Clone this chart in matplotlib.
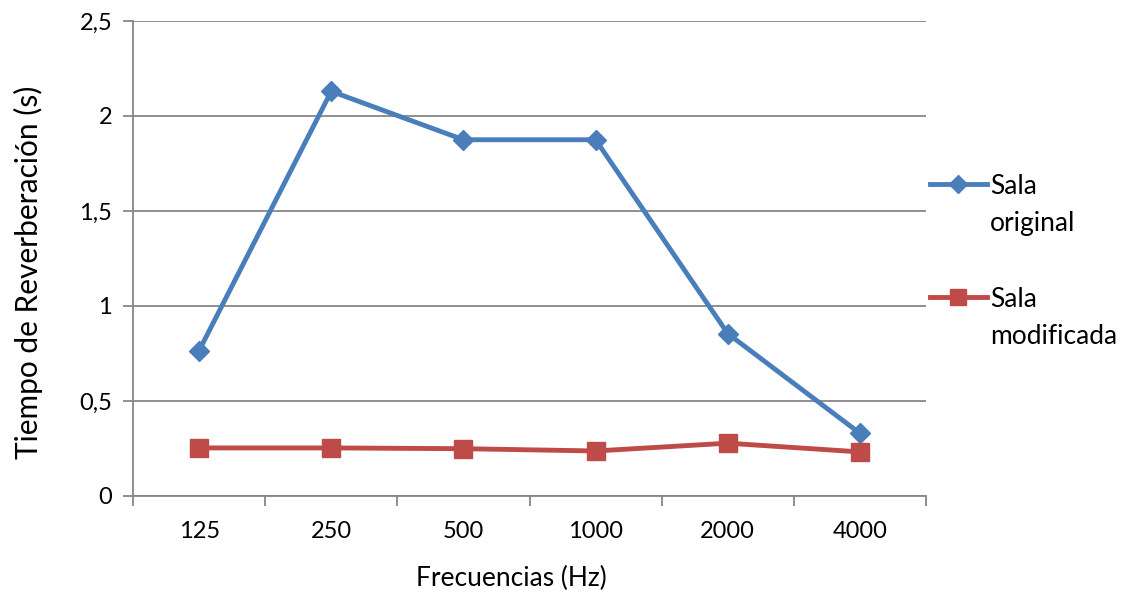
import matplotlib
matplotlib.use("Agg")
import matplotlib.pyplot as plt
from matplotlib.lines import Line2D
from matplotlib.ticker import FuncFormatter, FixedLocator

plt.rcParams['font.family'] = ['Lato', 'DejaVu Sans']

categories = ["125", "250", "500", "1000", "2000", "4000"]
sala_original = [0.765, 2.13, 1.875, 1.875, 0.855, 0.33]
sala_modificada = [0.253, 0.253, 0.249, 0.237, 0.278, 0.232]
series_names = ["Sala\noriginal", "Sala\nmodificada"]
yticks = [0, 0.5, 1, 1.5, 2, 2.5]

blue = "#4A7EBB"
red = "#BE4B48"
grid_c = "#878787"

W, H = 1127, 597
fig = plt.figure(figsize=(W / 100, H / 100), dpi=100)
ax = fig.add_axes([133 / W, 1 - 496 / H, (926 - 133) / W, (496 - 21) / H])

x = list(range(len(categories)))
ax.plot(x, sala_original, color=blue, lw=3.5, marker="D", ms=10,
        mec=blue, mfc=blue, zorder=3, clip_on=False)
ax.plot(x, sala_modificada, color=red, lw=3.5, marker="s", ms=13.5,
        mec=red, mfc=red, zorder=3, clip_on=False)

ax.set_xlim(-0.5, len(categories) - 0.5)
ax.set_ylim(0, 2.5)
ax.set_yticks(yticks)
ax.yaxis.set_major_formatter(FuncFormatter(lambda v, p: f"{v:g}".replace(".", ",")))
ax.grid(axis="y", color=grid_c, lw=1.3)
ax.set_axisbelow(True)

ax.xaxis.set_major_locator(FixedLocator([i - 0.5 for i in range(len(categories) + 1)]))
ax.xaxis.set_major_formatter(FuncFormatter(lambda v, p: ""))
ax.xaxis.set_minor_locator(FixedLocator(x))
ax.set_xticklabels(categories, minor=True)
ax.tick_params(axis="x", which="major", length=7, width=1.3, color=grid_c, direction="out")
ax.tick_params(axis="x", which="minor", length=0, pad=18, labelsize=17)
ax.tick_params(axis="y", length=7, width=1.3, color=grid_c, direction="out", pad=8, labelsize=17)

for s in ["top", "right"]:
    ax.spines[s].set_visible(False)
for s in ["left", "bottom"]:
    ax.spines[s].set_color(grid_c)
    ax.spines[s].set_linewidth(1.3)

ax.set_xlabel("Frecuencias (Hz)", fontsize=19)
ax.set_ylabel("Tiempo de Reverberación (s)", fontsize=21.5)
ax.xaxis.set_label_coords((511 - 133) / 793, (496 - 578) / 475)
ax.yaxis.set_label_coords((28 - 133) / 793, (496 - 272) / 475)
ax.xaxis.label.set_va("center")
ax.yaxis.label.set_va("center")

# manual legend (handle aligned with first line of label)
legend_items = [(series_names[0], blue, "D", 9, 184),
                (series_names[1], red, "s", 12, 297)]
for name, c, m, ms, ypx in legend_items:
    yy = 1 - ypx / H
    fig.add_artist(Line2D([930 / W, 987 / W], [yy, yy], color=c, lw=3.5,
                          transform=fig.transFigure))
    fig.add_artist(Line2D([958 / W], [yy], color=c, marker=m, ms=ms, mec=c, mfc=c,
                          transform=fig.transFigure))
    for i, line in enumerate(name.split("\n")):
        fig.text(990 / W, 1 - (ypx + 37 * i) / H, line, fontsize=19,
                 va="center_baseline", ha="left")

fig.savefig("out.png", dpi=100)
